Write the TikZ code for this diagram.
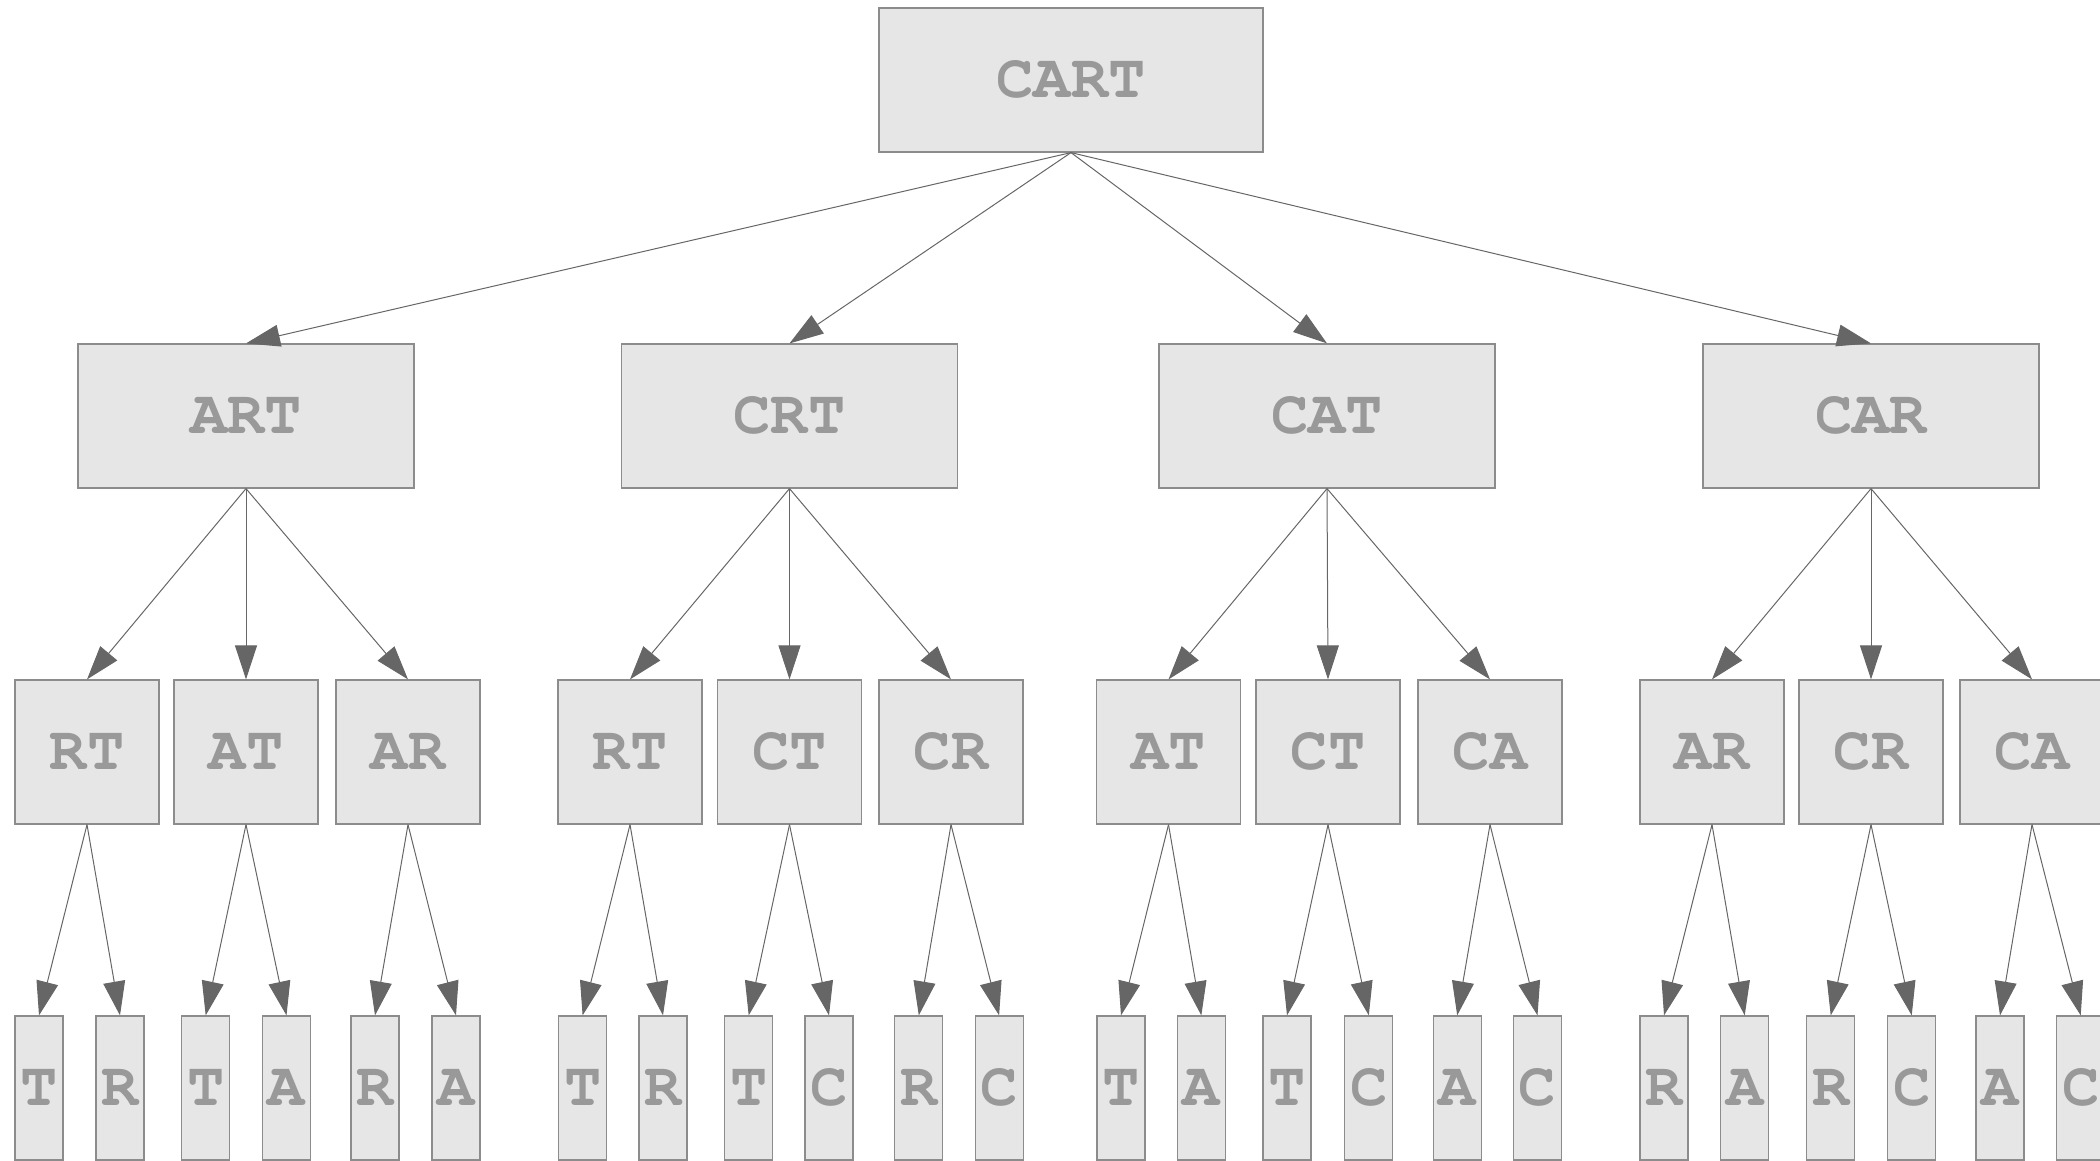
\documentclass[tikz,border=0pt]{standalone}
\usepackage[T1]{fontenc}
\usetikzlibrary{arrows.meta}
\definecolor{boxfill}{HTML}{E6E6E6}
\definecolor{boxline}{HTML}{8C8C8C}
\definecolor{txtgray}{HTML}{999999}
\definecolor{edgegray}{HTML}{666666}
\begin{document}
\begin{tikzpicture}[x=1pt,y=-1pt,
  box/.style={draw=boxline, fill=boxfill, line width=1.2pt, inner sep=0pt, text=txtgray,
    font=\fontfamily{pcr}\fontseries{b}\fontsize{62}{62}\selectfont},
  bigbox/.style={box, minimum width=384pt, minimum height=144pt},
  midbox/.style={box, minimum width=336pt, minimum height=144pt},
  sqbox/.style={box, minimum width=144pt, minimum height=144pt},
  leafbox/.style={box, minimum width=48pt, minimum height=144pt},
  arr/.style={draw=edgegray, line width=1pt, -{Triangle[length=34pt,width=22pt,fill=edgegray]}}]
\useasboundingbox (0,0) rectangle (2100,1160);
% level 1
\node[bigbox] (cart) at (1071,80) {CART};
% level 2
\node[midbox] (art) at (246,416) {ART};
\node[midbox] (crt) at (789.5,416) {CRT};
\node[midbox] (cat) at (1327,416) {CAT};
\node[midbox] (car) at (1871,416) {CAR};
% level 3
\node[sqbox] (rt1) at (87,752) {RT};
\node[sqbox] (at1) at (246,752) {AT};
\node[sqbox] (ar1) at (408,752) {AR};
\node[sqbox] (rt2) at (630,752) {RT};
\node[sqbox] (ct2) at (789.5,752) {CT};
\node[sqbox] (cr2) at (951,752) {CR};
\node[sqbox] (at3) at (1168.5,752) {AT};
\node[sqbox] (ct3) at (1328,752) {CT};
\node[sqbox] (ca3) at (1490,752) {CA};
\node[sqbox] (ar4) at (1712,752) {AR};
\node[sqbox] (cr4) at (1871,752) {CR};
\node[sqbox] (ca4) at (2032,752) {CA};
% level 4
\node[leafbox] (l1) at (39,1088) {T};
\node[leafbox] (l2) at (120,1088) {R};
\node[leafbox] (l3) at (205.7,1088) {T};
\node[leafbox] (l4) at (286.5,1088) {A};
\node[leafbox] (l5) at (375,1088) {R};
\node[leafbox] (l6) at (456,1088) {A};
\node[leafbox] (l7) at (582.6,1088) {T};
\node[leafbox] (l8) at (663,1088) {R};
\node[leafbox] (l9) at (748.7,1088) {T};
\node[leafbox] (l10) at (829,1088) {C};
\node[leafbox] (l11) at (918.8,1088) {R};
\node[leafbox] (l12) at (999.1,1088) {C};
\node[leafbox] (l13) at (1121,1088) {T};
\node[leafbox] (l14) at (1201.3,1088) {A};
\node[leafbox] (l15) at (1287,1088) {T};
\node[leafbox] (l16) at (1368.8,1088) {C};
\node[leafbox] (l17) at (1457.2,1088) {A};
\node[leafbox] (l18) at (1537.5,1088) {C};
\node[leafbox] (l19) at (1664,1088) {R};
\node[leafbox] (l20) at (1744.7,1088) {A};
\node[leafbox] (l21) at (1830.7,1088) {R};
\node[leafbox] (l22) at (1911.7,1088) {C};
\node[leafbox] (l23) at (2000,1088) {A};
\node[leafbox] (l24) at (2080.7,1088) {C};
% edges level 1 -> 2
\draw[arr] (cart.south) -- (art.north);
\draw[arr] (cart.south) -- (crt.north);
\draw[arr] (cart.south) -- (cat.north);
\draw[arr] (cart.south) -- (car.north);
% edges level 2 -> 3
\draw[arr] (art.south) -- (rt1.north);
\draw[arr] (art.south) -- (at1.north);
\draw[arr] (art.south) -- (ar1.north);
\draw[arr] (crt.south) -- (rt2.north);
\draw[arr] (crt.south) -- (ct2.north);
\draw[arr] (crt.south) -- (cr2.north);
\draw[arr] (cat.south) -- (at3.north);
\draw[arr] (cat.south) -- (ct3.north);
\draw[arr] (cat.south) -- (ca3.north);
\draw[arr] (car.south) -- (ar4.north);
\draw[arr] (car.south) -- (cr4.north);
\draw[arr] (car.south) -- (ca4.north);
% edges level 3 -> 4
\draw[arr] (rt1.south) -- (l1.north);
\draw[arr] (rt1.south) -- (l2.north);
\draw[arr] (at1.south) -- (l3.north);
\draw[arr] (at1.south) -- (l4.north);
\draw[arr] (ar1.south) -- (l5.north);
\draw[arr] (ar1.south) -- (l6.north);
\draw[arr] (rt2.south) -- (l7.north);
\draw[arr] (rt2.south) -- (l8.north);
\draw[arr] (ct2.south) -- (l9.north);
\draw[arr] (ct2.south) -- (l10.north);
\draw[arr] (cr2.south) -- (l11.north);
\draw[arr] (cr2.south) -- (l12.north);
\draw[arr] (at3.south) -- (l13.north);
\draw[arr] (at3.south) -- (l14.north);
\draw[arr] (ct3.south) -- (l15.north);
\draw[arr] (ct3.south) -- (l16.north);
\draw[arr] (ca3.south) -- (l17.north);
\draw[arr] (ca3.south) -- (l18.north);
\draw[arr] (ar4.south) -- (l19.north);
\draw[arr] (ar4.south) -- (l20.north);
\draw[arr] (cr4.south) -- (l21.north);
\draw[arr] (cr4.south) -- (l22.north);
\draw[arr] (ca4.south) -- (l23.north);
\draw[arr] (ca4.south) -- (l24.north);
\end{tikzpicture}
\end{document}
